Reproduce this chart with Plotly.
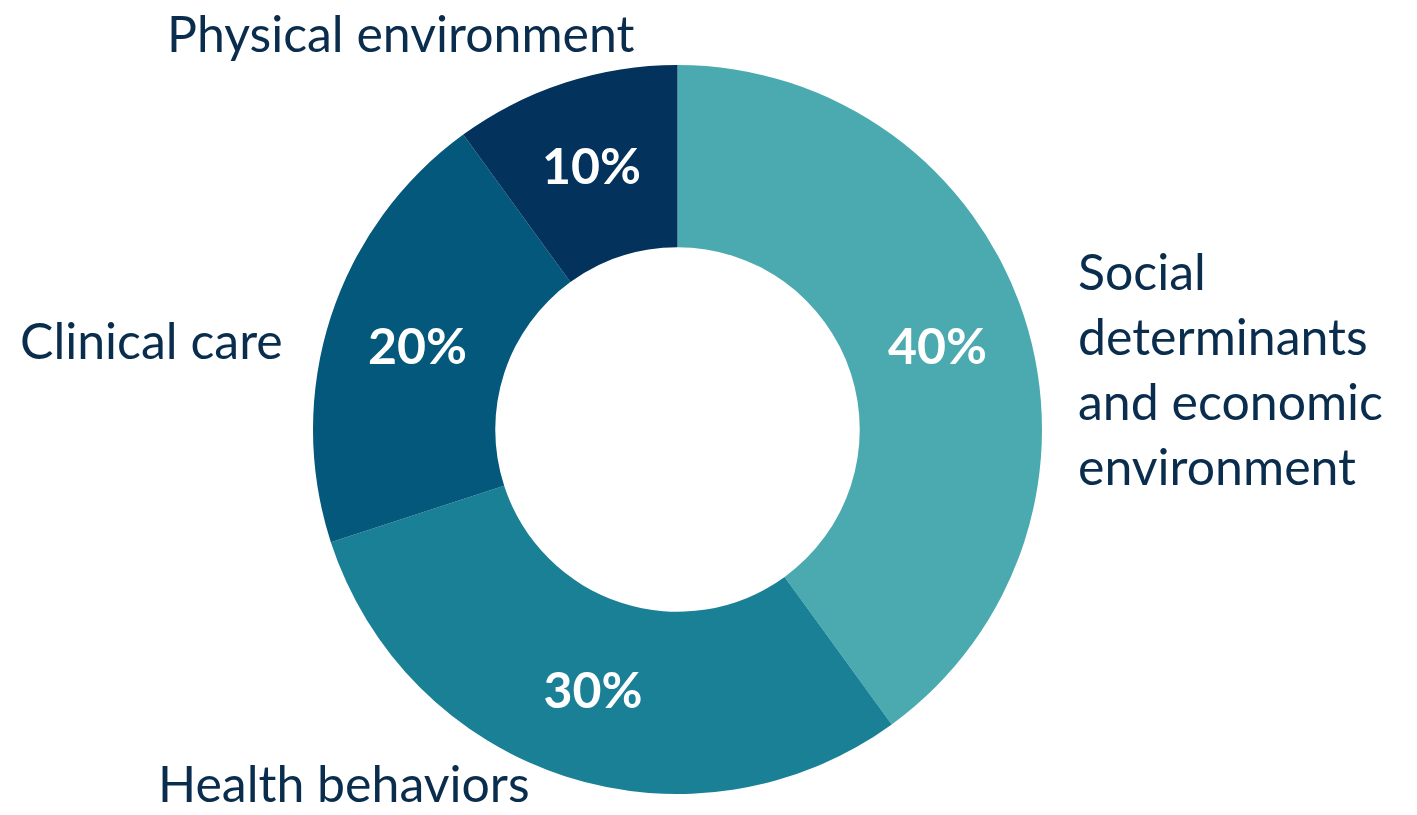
import plotly.graph_objects as go

categories = ["Social determinants and economic environment", "Health behaviors", "Clinical care", "Physical environment"]
values = [40, 30, 20, 10]
label_lines = ["Social<br>determinants<br>and economic<br>environment", "Health behaviors", "Clinical care", "Physical environment"]
colors = ["#4AAAAF", "#1A8096", "#03587B", "#03325C"]

W, H = 1417, 815
TXT = "#0A2D4E"
FONT = "Lato"

fig = go.Figure(go.Pie(
    labels=categories,
    values=values,
    hole=0.5,
    sort=False,
    direction="clockwise",
    rotation=0,
    marker=dict(colors=colors, line=dict(width=0)),
    texttemplate="%{value}%",
    textposition="inside",
    insidetextorientation="horizontal",
    textfont=dict(family=FONT, size=50, color="white", weight="bold"),
    domain=dict(x=[313 / W, 1042 / W], y=[1 - 794 / H, 1 - 65 / H]),
    showlegend=False,
    hoverinfo="label+percent",
))

# outside labels: (left edge px, y px, anchor)
label_pos = [(1076, 368, "middle"), (156, 815, "bottom"), (18, 340, "middle"), (165, 33, "middle")]
anns = []
for txt, (px, py, ya) in zip(label_lines, label_pos):
    anns.append(dict(
        text=txt, x=px / W, y=1 - py / H, xref="paper", yref="paper",
        xanchor="left", yanchor=ya, align="left", showarrow=False,
        font=dict(family=FONT, size=50, color=TXT),
    ))

fig.update_layout(
    width=W, height=H,
    margin=dict(l=0, r=0, t=0, b=0),
    paper_bgcolor="white", plot_bgcolor="white",
    annotations=anns,
    uniformtext=dict(minsize=10, mode="show"),
)

fig.write_html("out.html")
